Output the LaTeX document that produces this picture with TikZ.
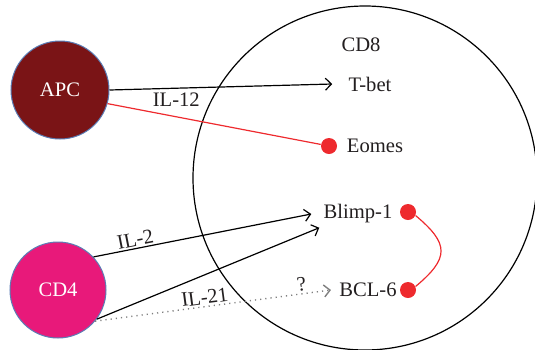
\documentclass[tikz,border=0pt]{standalone}
\usepackage{fontspec}
\setmainfont{Liberation Serif}
\usepackage{xcolor}
\usetikzlibrary{arrows.meta, positioning}
\definecolor{apcred}{HTML}{7A1416}
\definecolor{cdpink}{HTML}{E8197A}
\definecolor{dotred}{HTML}{EE2A2E}
\definecolor{ink}{HTML}{231F20}
\definecolor{rimblue}{HTML}{5B7DB5}

\begin{document}
\begin{tikzpicture}[x=0.5pt, y=-0.5pt,
    font=\fontsize{10.3}{12}\selectfont,
    cell/.style={circle, draw=rimblue, line width=0.5pt, text=white, inner sep=0pt, minimum size=49pt},
    lbl/.style={text=ink, inner sep=1pt},
    spot/.style={circle, fill=dotred, inner sep=0pt, minimum size=8pt},
    arr/.style={-{Straight Barb[length=3pt, width=6pt]}, line width=0.6pt},
    link/.style={dotred, line width=0.6pt}
  ]
  \useasboundingbox (0,0) rectangle (535,349);

  % cells
  \node[cell, fill=apcred] (apc) at (60,90) {APC};
  \node[cell, fill=cdpink, minimum size=48pt] (cd4) at (58,290) {CD4};
  \node[circle, draw, line width=0.6pt, minimum size=172pt] (cd8) at (365,178) {};
  \node[lbl] (cd8lbl) at (361,45) {CD8};

  % factors inside CD8
  \node[lbl] (tbet) at (370,84) {T-bet};
  \node[lbl] (eomes) at (375,146) {Eomes};
  \node[lbl] (blimp) at (358,214) {Blimp-1};
  \node[lbl] (bcl) at (368,290) {BCL-6};

  \node[spot] (eomesdot) at (329,146) {};
  \node[spot] (blimpdot) at (408,212) {};
  \node[spot] (bcldot) at (408,290) {};

  % APC signals
  \draw[arr] (apc.east) -- node[lbl, below=1pt, pos=0.3] {IL-12} ([xshift=-7pt]tbet.west);
  \draw[link] (apc.-16) -- (eomesdot);

  % CD4 signals
  \draw[arr] (cd4.43) -- node[lbl, above, sloped, pos=0.2] {IL-2} ([xshift=-5pt]blimp.west);
  \draw[arr] (cd4.-37) -- ([xshift=-1pt, yshift=-1pt]blimp.south west);
  \draw[arr, gray, dotted, line width=0.7pt] (cd4.-40) --
    node[lbl, above, sloped, pos=0.47] {IL-21}
    node[lbl, above, sloped, pos=0.88] {?} ([xshift=-3pt]bcl.west);

  % Blimp-1 -- BCL-6
  \draw[link] (blimpdot.-25) to[out=-40, in=40, looseness=1.6] (bcldot.25);
\end{tikzpicture}
\end{document}
